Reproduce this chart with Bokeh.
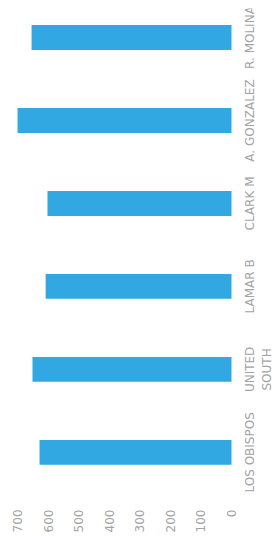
import math
from bokeh.plotting import figure
from bokeh.models import Range1d, FixedTicker, ColumnDataSource
from bokeh.core.properties import value
from bokeh.embed import file_html
from bokeh.resources import INLINE

# Data (bottom to top)
categories = ["LOS OBISPOS", "UNITED\nSOUTH", "LAMAR B", "CLARK M", "A. GONZALEZ", "R. MOLINA"]
values = [628, 651, 608, 602, 700, 654]
value_ticks = [0, 100, 200, 300, 400, 500, 600, 700]

positions = list(range(len(categories)))
label_x = -39.0  # label column just right of the zero line (reversed value axis)

p = figure(frame_width=266, frame_height=487, output_backend="svg",
           toolbar_location=None, x_axis_location="below", y_axis_location=None,
           x_range=Range1d(729.5, -140.7), y_range=Range1d(-0.52, 5.35),
           min_border_left=8, min_border_top=8, min_border_right=0, min_border_bottom=0)
p.outline_line_color = None
p.grid.visible = False
p.background_fill_color = "white"

p.hbar(y=positions, right=values, left=0, height=0.3, color="#31a8e1", line_color=None)

grey = "#a3a3a3"
src = ColumnDataSource(dict(y=positions, text=categories, x=[label_x] * len(positions)))
p.text(x="x", y="y", text="text", source=src, angle=math.pi / 2,
       text_align="center", text_baseline="top", text_color=grey,
       text_font=value("DejaVu Sans"), text_font_size="12px", text_line_height=1.15)

xa = p.xaxis[0]
xa.ticker = FixedTicker(ticks=value_ticks)
xa.major_label_orientation = math.pi / 2
xa.axis_line_color = None
xa.major_tick_line_color = None
xa.minor_tick_line_color = None
xa.major_label_standoff = 8
xa.major_label_text_color = grey
xa.major_label_text_font = "DejaVu Sans"
xa.major_label_text_font_size = "12px"

open("out.html", "w").write(file_html(p, INLINE))
